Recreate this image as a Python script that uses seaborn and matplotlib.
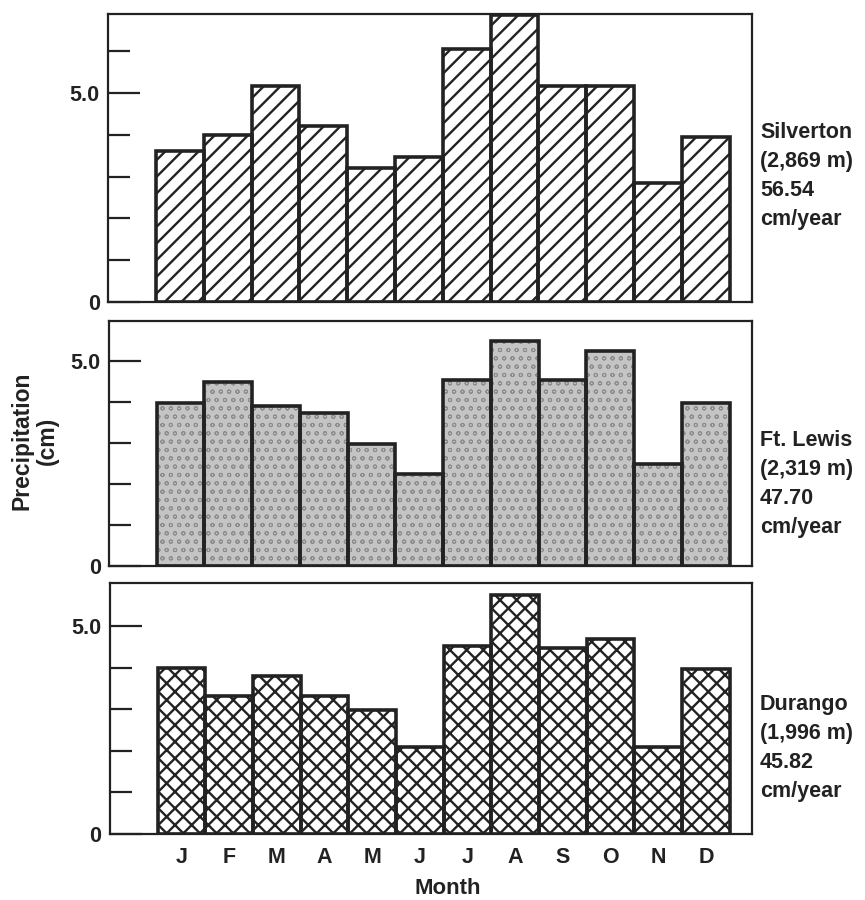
import matplotlib
matplotlib.use("Agg")
import matplotlib.pyplot as plt
import pandas as pd
import seaborn as sns

# monthly precipitation (cm)
months = ["J", "F", "M", "A", "M", "J", "J", "A", "S", "O", "N", "D"]
silverton = [3.61, 4.00, 5.17, 4.22, 3.21, 3.48, 6.05, 6.87, 5.17, 5.17, 2.85, 3.95]
ft_lewis = [3.97, 4.48, 3.91, 3.74, 2.97, 2.24, 4.53, 5.49, 4.53, 5.24, 2.48, 3.97]
durango = [3.99, 3.33, 3.81, 3.33, 2.99, 2.10, 4.52, 5.76, 4.48, 4.70, 2.10, 3.98]

station_labels = [
    "Silverton\n(2,869 m)\n56.54\ncm/year",
    "Ft. Lewis\n(2,319 m)\n47.70\ncm/year",
    "Durango\n(1,996 m)\n45.82\ncm/year",
]

sns.set_theme(style="white")
plt.rcParams["font.family"] = ["Liberation Sans", "DejaVu Sans"]
plt.rcParams["font.weight"] = "bold"

INK = "#222222"


def draw_panel(ax, values, hatch, face, hatch_color, hatch_lw, top, minor):
    df = pd.DataFrame({"pos": list(range(12)), "cm": values})
    sns.barplot(data=df, x="pos", y="cm", ax=ax, width=1.0, color=face,
                saturation=1, errorbar=None)
    for p in ax.patches:
        p.set_hatch(hatch)
        p.set_edgecolor(hatch_color)
        p.set_linewidth(0)
        if hasattr(p, "set_hatch_linewidth"):
            p.set_hatch_linewidth(hatch_lw)
    # outlines
    sns.barplot(data=df, x="pos", y="cm", ax=ax, width=1.0, fill=False,
                color=INK, linewidth=2.6, errorbar=None)

    ax.set_xlim(-1.5, 11.96)
    ax.set_ylim(0, top)
    ax.set_yticks([0, 5])
    ax.set_yticklabels(["0", "5.0"], fontsize=15.5, fontweight="bold", color=INK)
    ax.set_yticks(minor, minor=True)
    ax.tick_params(axis="y", which="major", direction="in", length=23,
                   width=1.6, color=INK, pad=6, left=True)
    ax.tick_params(axis="y", which="minor", direction="in", length=16,
                   width=1.6, color=INK, left=True)
    ax.set_xticks(range(12))
    ax.tick_params(axis="x", length=0)
    ax.set_xlabel("")
    ax.set_ylabel("")
    for s in ax.spines.values():
        s.set_color(INK)
        s.set_linewidth(1.6)


fig = plt.figure(figsize=(8.65, 9), dpi=100)

ax1 = fig.add_axes([0.125, 0.6644, 0.744, 0.32])
ax2 = fig.add_axes([0.126, 0.3711, 0.743, 0.2722])
ax3 = fig.add_axes([0.127, 0.0733, 0.742, 0.2789])

plt.rcParams["hatch.linewidth"] = 1.7
draw_panel(ax1, silverton, "//", "white", INK, 1.7, 6.89, [1, 2, 3, 4, 6])
draw_panel(ax2, ft_lewis, "oo", "#c4c4c4", "#8c8c8c", 0.7, 5.98, [1, 2, 3, 4])
draw_panel(ax3, durango, "xx", "white", INK, 1.7, 6.04, [1, 2, 3, 4])

ax1.set_xticklabels([])
ax2.set_xticklabels([])
ax3.set_xticklabels(months, fontsize=15.5, fontweight="bold", color=INK)
ax3.tick_params(axis="x", pad=9)

fig.text(448 / 865, 1 - 889 / 900, "Month", ha="center", va="center",
         fontsize=16, fontweight="bold", color=INK)
fig.text(35 / 865, 1 - 441 / 900, "Precipitation\n(cm)", rotation=90,
         ha="center", va="center", multialignment="center",
         fontsize=16.5, fontweight="bold", color=INK, linespacing=1.15)

for lab, yc in zip(station_labels, [176, 484, 748]):
    fig.text(760 / 865, 1 - yc / 900, lab, ha="left", va="center",
             fontsize=15.5, fontweight="bold", color=INK, linespacing=1.5)

fig.savefig("out.png", dpi=100)
